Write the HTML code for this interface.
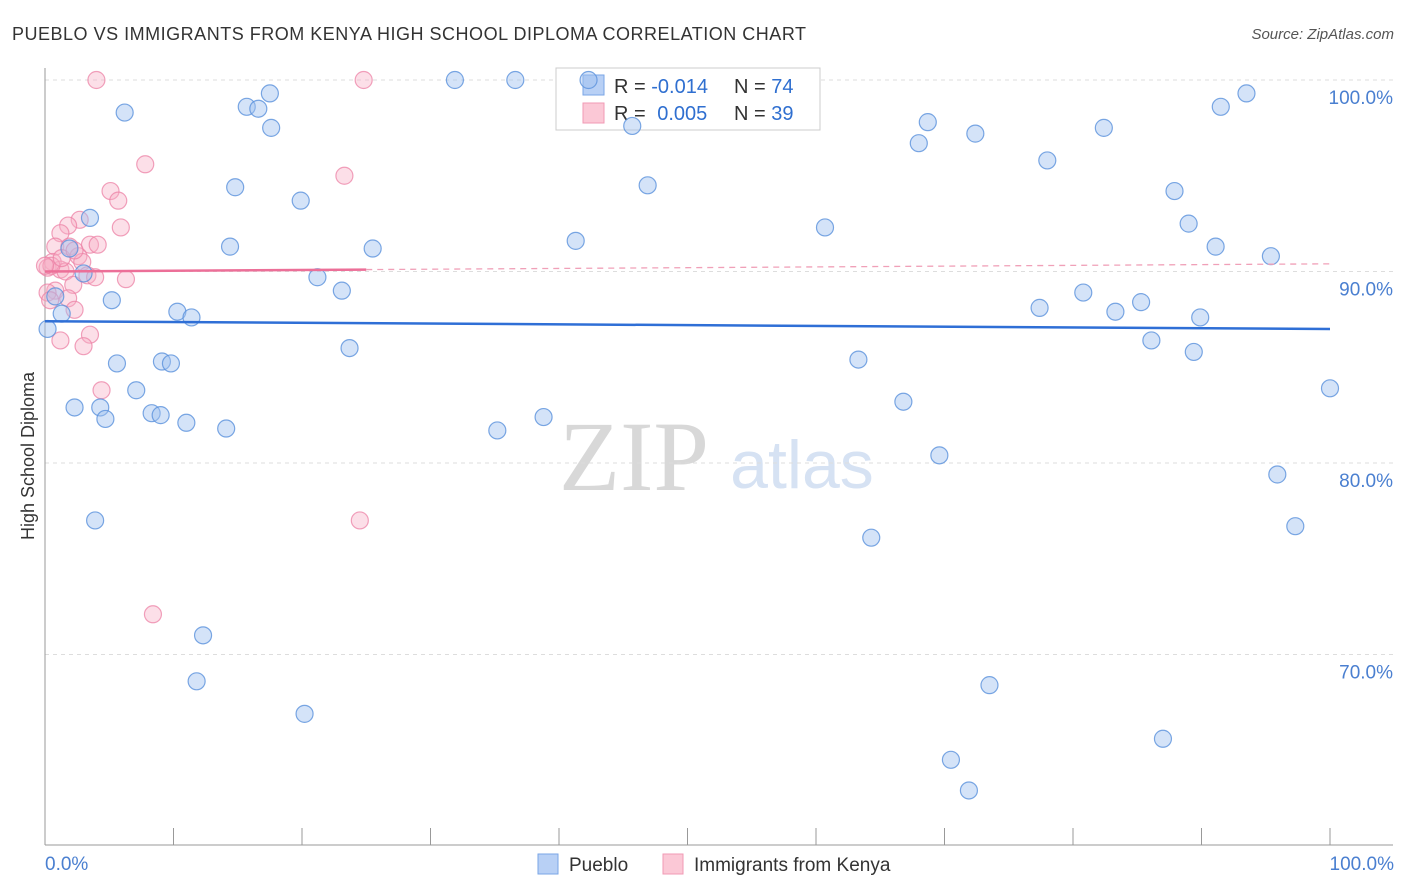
<!DOCTYPE html>
<html><head><meta charset="utf-8"><style>
body{margin:0;background:#fff;font-family:"Liberation Sans",sans-serif;}
</style></head><body>
<svg id="chart" width="1406" height="892" xmlns="http://www.w3.org/2000/svg" style="display:block">
<text x="12" y="40" font-size="18" fill="#333" textLength="794" lengthAdjust="spacing">PUEBLO VS IMMIGRANTS FROM KENYA HIGH SCHOOL DIPLOMA CORRELATION CHART</text>
<text x="1394" y="39" font-size="15" fill="#555" text-anchor="end" font-style="italic">Source: ZipAtlas.com</text>
<text x="634" y="490" font-size="100" fill="#d8d8d8" text-anchor="middle" font-family="Liberation Serif,serif">ZIP</text>
<text x="802" y="488" font-size="68" fill="#d6e2f3" text-anchor="middle">atlas</text>
<g id="grid"></g>
<g>
<rect x="556" y="68" width="264" height="62" fill="#fff" stroke="#ccc"/>
<rect x="583" y="75" width="21" height="20" fill="#b8d0f5" stroke="#7aa6e6"/>
<rect x="583" y="103" width="21" height="20" fill="#fbc8d6" stroke="#f09ab4"/>
<text x="614" y="93" font-size="20" fill="#333">R = <tspan fill="#2f6fd0">-0.014</tspan></text>
<text x="734" y="93" font-size="20" fill="#333">N = <tspan fill="#2f6fd0">74</tspan></text>
<text x="614" y="120" font-size="20" fill="#333">R = <tspan fill="#2f6fd0" dx="6">0.005</tspan></text>
<text x="734" y="120" font-size="20" fill="#333">N = <tspan fill="#2f6fd0">39</tspan></text>
</g>
<g id="marks"></g>
<text transform="translate(34,456) rotate(-90)" font-size="18" fill="#333" text-anchor="middle">High School Diploma</text>
<text x="45" y="870" font-size="19" fill="#4a7fd0">0.0%</text>
<text x="1394" y="870" font-size="19" fill="#4a7fd0" text-anchor="end">100.0%</text>
<g>
<rect x="538" y="854" width="20" height="20" fill="#b8d0f5" stroke="#7aa6e6"/>
<text x="569" y="871" font-size="19" fill="#333">Pueblo</text>
<rect x="663" y="854" width="20" height="20" fill="#fbc8d6" stroke="#f09ab4"/>
<text x="694" y="871" font-size="19" fill="#333">Immigrants from Kenya</text>
</g>
</svg>
<script>
const yTicks=[100,90,80,70];
const yTickLabels=["100.0%","90.0%","80.0%","70.0%"];
const blueX=[6.2,15.7,16.6,17.5,17.6,31.9,36.6,42.3,45.7,14.8,19.9,3.5,46.9,14.4,25.5,41.3,60.7,68.0,68.7,72.4,78.0,82.4,87.9,89.0,91.1,91.5,93.5,95.4,1.9,3.0,21.2,23.1,0.8,5.2,10.3,11.4,1.3,0.2,23.7,5.6,9.1,9.8,7.1,2.3,4.3,4.7,8.3,9.0,11.0,14.1,35.2,38.8,63.3,66.8,69.6,77.4,80.8,83.3,85.3,86.1,89.4,89.9,100,95.9,97.3,3.9,64.3,12.3,11.8,20.2,73.5,70.5,71.9,87.0];
const blueY=[98.3,98.6,98.5,99.3,97.5,100,100,100,97.6,94.4,93.7,92.8,94.5,91.3,91.2,91.6,92.3,96.7,97.8,97.2,95.8,97.5,94.2,92.5,91.3,98.6,99.3,90.8,91.2,89.9,89.7,89.0,88.7,88.5,87.9,87.6,87.8,87.0,86.0,85.2,85.3,85.2,83.8,82.9,82.9,82.3,82.6,82.5,82.1,81.8,81.7,82.4,85.4,83.2,80.4,88.1,88.9,87.9,88.4,86.4,85.8,87.6,83.9,79.4,76.7,77.0,76.1,71.0,68.6,66.9,68.4,64.5,62.9,65.6];
const pinkX=[4.0,24.8,7.8,23.3,5.1,5.7,5.9,2.7,1.8,1.2,0.8,1.9,3.5,4.1,0.6,0.2,1.2,1.6,2.6,2.9,3.3,3.9,6.3,2.2,0.8,1.8,2.3,0.2,1.2,3.5,3.0,4.4,24.5,8.4,0.5,0,1.3,2.3,0.4];
const pinkY=[100,100,95.6,95.0,94.2,93.7,92.3,92.7,92.4,92.0,91.3,91.3,91.4,91.4,90.5,90.2,90.1,90.0,90.8,90.5,89.8,89.7,89.6,89.3,89.0,88.6,88.0,88.9,86.4,86.7,86.1,83.8,77.0,72.1,90.3,90.3,90.7,91.1,88.5];
const blueTrend=[87.4,87.0];
const pinkTrend=[90.0,90.4];
const X0=45,X1=1330,Y100=80,PX=19.15;
const xs=v=>X0+(X1-X0)*v/100;
const ys=v=>Y100+(100-v)*PX;
const NS="http://www.w3.org/2000/svg";
function mk(t,a,p){const e=document.createElementNS(NS,t);for(const k in a)e.setAttribute(k,a[k]);p.appendChild(e);return e;}
const grid=document.getElementById('grid'),marks=document.getElementById('marks');
yTicks.forEach((t,i)=>{
 const l=mk('line',{x1:45,x2:1393,y1:ys(t),y2:ys(t),stroke:'#ddd','stroke-dasharray':'4,4'},grid);
 
 
 const tx=mk('text',{x:1393,y:ys(t)+24,'font-size':19,fill:'#4a7fd0','text-anchor':'end'},grid);
 tx.textContent=yTickLabels[i];
 
 
});
const ax=mk('line',{x1:45,x2:45,y1:68,y2:845,stroke:'#999'},grid);


const bx=mk('line',{x1:45,x2:1393,y1:845,y2:845,stroke:'#999'},grid);


for(let i=1;i<=10;i++){const tk=mk('line',{x1:xs(i*10),x2:xs(i*10),y1:828,y2:845,stroke:'#999'},grid);
 
 }
pinkX.forEach((x,i)=>{const c=mk('circle',{cx:xs(x),cy:ys(pinkY[i]),r:8.5,fill:'rgba(248,176,198,0.4)',stroke:'rgba(236,130,165,0.75)','stroke-width':1.2},marks);
 
 });
blueX.forEach((x,i)=>{const c=mk('circle',{cx:xs(x),cy:ys(blueY[i]),r:8.5,fill:'rgba(160,194,240,0.45)',stroke:'rgba(90,145,220,0.8)','stroke-width':1.2},marks);
 
 });
const bl=mk('line',{x1:xs(0),x2:xs(100),y1:ys(blueTrend[0]),y2:ys(blueTrend[1]),stroke:'#2f6fd6','stroke-width':2.5},marks);


const pm=pinkTrend[0]+(pinkTrend[1]-pinkTrend[0])*0.25;
const pl=mk('line',{x1:xs(0),x2:xs(25),y1:ys(pinkTrend[0]),y2:ys(pm),stroke:'#ec6f98','stroke-width':2.5},marks);


const pd=mk('line',{x1:xs(25),x2:xs(100),y1:ys(pm),y2:ys(pinkTrend[1]),stroke:'#f0a0b8','stroke-width':1.3,'stroke-dasharray':'6,5'},marks);


</script>
</body></html>
